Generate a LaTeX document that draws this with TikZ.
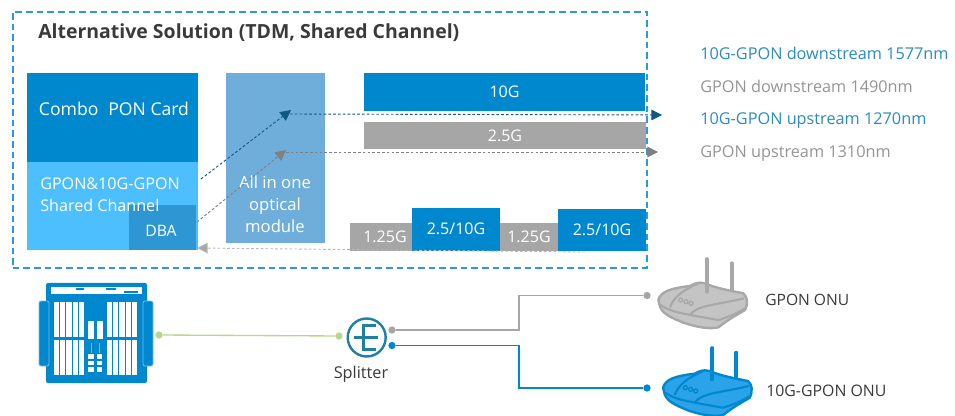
\documentclass[tikz,border=0pt]{standalone}
\usepackage{fontspec}
\setmainfont{Open Sans}
\usetikzlibrary{arrows.meta}
\definecolor{cblue}{HTML}{0088CF}
\definecolor{clight}{HTML}{4DBFFF}
\definecolor{cdba}{HTML}{2E96D2}
\definecolor{cmod}{HTML}{6FADDA}
\definecolor{cgray}{HTML}{A6A6A6}
\definecolor{cdark}{HTML}{0F5A82}
\definecolor{cframe}{HTML}{2A9BD8}
\definecolor{csplit}{HTML}{1F7FA5}
\definecolor{cgreen}{HTML}{B5D98A}
\definecolor{ctext}{HTML}{3A3A3A}
\definecolor{clegblue}{HTML}{2A8CC0}
\definecolor{cleggray}{HTML}{959595}
\definecolor{crblue}{HTML}{2AA3EA}
\definecolor{crgray}{HTML}{C4C4C4}
\definecolor{crgline}{HTML}{A8A8A8}
\newcommand{\routerdraw}[7]{%
 \begin{scope}[shift={(#1,#2)},x=0.25pt,y=-0.25pt]
   \draw[#4,line width=3pt,line cap=round] (#5,125) -- (#5,#6);
   \draw[#4,line width=3pt,line cap=round] (305,125) -- (305,#7);
   \draw[draw=#4,fill=#3,line width=1.8pt,line join=round] (85,150) .. controls (92,125) and (120,115) .. (180,108)
     .. controls (195,100) and (205,95) .. (225,100) .. controls (260,115) and (300,122) .. (340,130)
     .. controls (352,140) and (355,160) .. (345,180) .. controls (320,195) and (300,205) .. (265,232)
     .. controls (240,238) and (200,232) .. (160,218) .. controls (130,205) and (100,195) .. (90,170) -- cycle;
   \draw[#4,line width=3pt,line cap=round] (#5,125) -- (#5,#6);
   \draw[#4,line width=1.6pt] (120,172) .. controls (130,145) and (150,125) .. (205,100);
   \draw[#4,line width=1.6pt] (180,195) .. controls (200,165) and (260,165) .. (342,145);
   \draw[#4,line width=1.6pt] (92,165) .. controls (120,185) and (150,190) .. (265,210) .. controls (300,200) and (330,185) .. (345,175);
   \foreach \bx/\by in {152/150,168/155,183/160} \draw[#4,line width=1pt] (\bx,\by) circle (6);
 \end{scope}}
\tikzset{
 x=0.75pt,y=-0.75pt,
 block/.style={anchor=north west,inner sep=0,outer sep=0,minimum width=#1},
 bartext/.style={fill=cblue,text=white,font=\fontsize{12}{14}\selectfont},
 graytext/.style={fill=cgray,text=white,font=\fontsize{12}{14}\selectfont},
 wtext/.style={text=white,inner sep=0,align=center},
 legend/.style={anchor=base west,inner sep=0,font=\fontsize{12.2}{14}\selectfont},
 darklink/.style={draw=cdark,dash pattern=on 2pt off 1.6pt,line width=0.7pt},
 graylink/.style={draw=gray,dash pattern=on 2pt off 1.6pt,line width=0.7pt},
 paleline/.style={draw=cgray!80,dash pattern=on 2pt off 1.6pt,line width=0.7pt},
 dot/.style={circle,inner sep=0,minimum size=5.5pt},
 darktip/.style={-{Triangle[length=8pt,width=8pt,fill=cdark]}},
 graytip/.style={-{Triangle[length=8pt,width=8pt,fill=gray]}},
}
\begin{document}
\begin{tikzpicture}
\useasboundingbox (0,0) rectangle (955,416);
\node[anchor=base west,inner sep=0,text=ctext,font=\fontsize{14.6}{16}\selectfont\bfseries] (title) at (38,38.3) {Alternative Solution (TDM, Shared Channel)};
% card
\node[block=128.25pt,minimum height=66.75pt,fill=cblue] (combo) at (27,73) {};
\node[block=128.25pt,minimum height=66pt,fill=clight] (shared) at (27,162) {};
\node[block=50.25pt,minimum height=33.75pt,fill=cdba] (dba) at (129,205) {};
\node[wtext,font=\fontsize{13.2}{15}\selectfont] (combotxt) at (114,108.5) {Combo\hspace{0.3em} PON Card};
\node[wtext,anchor=north west,align=left,font=\fontsize{12.1}{15.8}\selectfont] (sharedtxt) at (40,178) {GPON\&10G-GPON\\Shared Channel};
\node[wtext,font=\fontsize{11.8}{14}\selectfont] (dbatxt) at (161,231) {DBA};
% module
\node[block=74.25pt,minimum height=127.5pt,fill=cmod] (module) at (226,73) {};
\node[wtext,font=\fontsize{12.5}{16.4}\selectfont] (modtxt) at (275,204) {All in one\\optical\\module};
% bars
\node[block=210.75pt,minimum height=28.5pt,bartext] (tenG) at (364,73) {10G};
\node[block=211.5pt,minimum height=20.25pt,graytext] (twoG) at (364,122) {2.5G};
\node[block=46.5pt,minimum height=21pt,graytext] (slotA) at (350,223) {\hspace{6pt}1.25G};
\node[block=66pt,minimum height=32.25pt,bartext] (slotB) at (412,208) {\raisebox{1pt}{2.5/10G}};
\node[block=43.5pt,minimum height=21pt,graytext] (slotC) at (500,223) {1.25G};
\node[block=66pt,minimum height=31.5pt,bartext] (slotD) at (558,209) {\raisebox{1pt}{2.5/10G}};
% frame
\node[draw=cframe,dash pattern=on 5pt off 3pt,line width=1.2pt,anchor=north west,inner sep=0,minimum width=475.5pt,minimum height=192pt] (frame) at (12,11) {};
% links
\coordinate (ds1) at (201,179); \coordinate (ds2) at (291,110); \coordinate (ds3) at (290,114); \coordinate (ds4) at (662,115);
\coordinate (gs1) at (197,222); \coordinate (gs2) at (286,150); \coordinate (gs3) at (286,152); \coordinate (gs4) at (658,152);
\coordinate (us1) at (585,252); \coordinate (us2) at (197,248);
\draw[darklink,darktip] (ds1) -- (ds2);
\draw[darklink,darktip] (ds3) -- (ds4);
\draw[graylink,graytip] (gs1) -- (gs2);
\draw[graylink,graytip] (gs3) -- (gs4);
\draw[paleline,-{Triangle[length=8pt,width=8pt,fill=cgray]}] (us1) -- (us2);
% legend
\node[legend,text=clegblue] (l1) at (700,59.3) {10G-GPON downstream 1577nm};
\node[legend,text=cleggray] (l2) at (700,92.3) {GPON downstream 1490nm};
\node[legend,text=clegblue] (l3) at (700,125) {10G-GPON upstream 1270nm};
\node[legend,text=cleggray] (l4) at (700,157.7) {GPON upstream 1310nm};
% OLT icon
\fill[cblue,rounded corners=1.5pt] (46,283) rectangle (147,383);
\draw[cblue!55!white,line width=0.6pt,fill=cblue,rounded corners=1.5pt] (39,301) rectangle (49,366);
\draw[cblue!55!white,line width=0.6pt,fill=cblue,rounded corners=1.5pt] (143,301) rectangle (153,366);
\fill[white] (51,287) rectangle (142,293.5);
\fill[cblue] (75.5,288) rectangle (84,290); \fill[cblue] (106,288) rectangle (116,290); \fill[cblue] (124,291) rectangle (138,293);
\foreach \sx in {54,60.2,66.4,72.6,78.8,107,113.2,119.4,125.6,131.8}{
  \fill[white] (\sx,302) rectangle +(5.2,35);
  \fill[white] (\sx,340) rectangle +(5.2,35);
}
\foreach \sx in {88.3,96.7}{
  \fill[white] (\sx,321) rectangle +(6,18);
  \fill[white] (\sx,354) rectangle +(5.5,5);
  \fill[white] (\sx,361) rectangle +(5.5,4);
  \fill[white] (\sx,367) rectangle +(5.5,4.5);
  \fill[cblue!55!white] (\sx+2.3,343) rectangle +(1.2,10);
}
% splitter
\node[circle,draw=csplit,line width=1.8pt,minimum size=28.5pt,inner sep=0] (split) at (366.7,337.5) {};
\draw[csplit,line width=2pt] (353.5,337.5) -- (378,337.5);
\draw[csplit,line width=2pt] (376,325.5) -- (363.5,325.5) -- (363.5,349.5) -- (376,349.5);
\node[anchor=north,inner sep=0,text=ctext,font=\fontsize{12.2}{14}\selectfont] (splittxt) at (361,366) {Splitter};
% dots
\node[dot,fill=cgreen] (gd1) at (159,335) {};
\node[dot,fill=cgreen] (gd2) at (339,336) {};
\node[dot,fill=cgray] (pd1) at (392,330) {};
\node[dot,fill=cgray] (pd2) at (647,295.5) {};
\node[dot,fill=cblue] (bd1) at (392,345.5) {};
\node[dot,fill=cblue] (bd2) at (647,388) {};
\draw[cgreen,line width=1pt] (gd1) -- (gd2);
\draw[cgray,line width=1.2pt] (pd1) -- (519,330) -- (519,295.5) -- (pd2);
\draw[cblue,line width=1.1pt] (bd1) -- (519,345.5) -- (519,388) -- (bd2);
% routers
\routerdraw{630}{250}{crgray}{crgline}{230}{28}{40}
\routerdraw{634.7}{337.7}{crblue}{cblue}{233}{32}{45}
\node[anchor=west,inner sep=0,text=ctext,font=\fontsize{11.7}{13}\selectfont] (onu1) at (765,300) {GPON ONU};
\node[anchor=west,inner sep=0,text=ctext,font=\fontsize{11.9}{13}\selectfont] (onu2) at (766,391) {10G-GPON ONU};
\end{tikzpicture}
\end{document}
